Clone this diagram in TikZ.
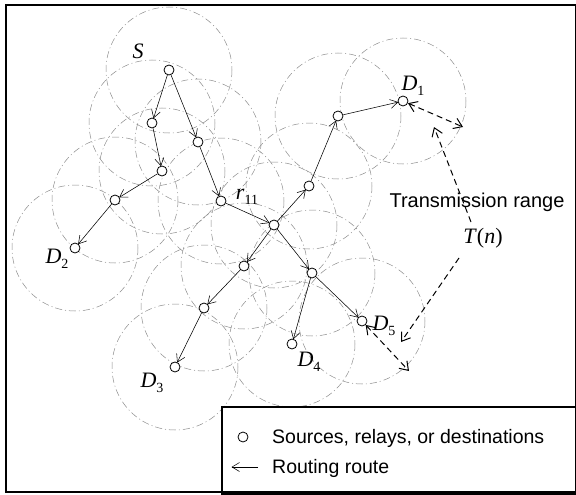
\documentclass[tikz,border=0pt]{standalone}
\usepackage{fontspec}
\setmainfont{Liberation Serif}
\setsansfont{Liberation Sans}
\usetikzlibrary{arrows.meta,backgrounds}
\newcommand{\lbl}[2]{\textit{#1}\raisebox{-0.45ex}{\fontsize{14}{14}\selectfont #2}}
\begin{document}
\begin{tikzpicture}[x=1pt,y=-1pt,
  nd/.style={circle,draw,line width=0.8pt,fill=white,inner sep=0pt,minimum size=10pt},
  route/.style={-{Straight Barb[length=7.5pt,width=9pt]},line width=0.55pt,shorten >=-0.5pt},
  rng/.style={draw=black!45,line width=0.5pt,dash pattern=on 7pt off 3pt on 1pt off 3pt},
  tarrow/.style={line width=1pt,dash pattern=on 6pt off 4pt},
  ttip/.tip={Straight Barb[length=8pt,width=11pt]},
  lab/.style={font=\fontsize{22}{22}\selectfont,inner sep=0pt},
  legtxt/.style={font=\sffamily\fontsize{19.5}{20}\selectfont,anchor=west,inner sep=0pt}]
\useasboundingbox (0,0) rectangle (576,495);
% nodes
\node[nd] (S) at (169,70) {};
\node[nd] (n1) at (152,123) {};
\node[nd] (n2) at (198,142) {};
\node[nd] (n3) at (162,171) {};
\node[nd] (n4) at (115,200) {};
\node[nd] (D2) at (75,248) {};
\node[nd] (r11) at (221,201) {};
\node[nd] (c) at (274,225) {};
\node[nd] (u1) at (309,186) {};
\node[nd] (u2) at (338,116) {};
\node[nd] (D1) at (403,101) {};
\node[nd] (l1) at (244,266) {};
\node[nd] (l2) at (204,308) {};
\node[nd] (D3) at (175,367) {};
\node[nd] (m) at (312,273) {};
\node[nd] (D4) at (292,344) {};
\node[nd] (D5) at (362,321) {};
% transmission ranges
\begin{scope}[on background layer]
\foreach \n in {S,n1,n2,n3,n4,D2,r11,c,u1,u2,D1,l1,l2,D3,m,D4,D5}
  \draw[rng] (\n.center) circle[radius=63];
\end{scope}
% routes
\draw[route] (S) -- (n1);
\draw[route] (S) -- (n2);
\draw[route] (n1) -- (n3);
\draw[route] (n3) -- (n4);
\draw[route] (n4) -- (D2);
\draw[route] (n2) -- (r11);
\draw[route] (r11) -- (c);
\draw[route] (c) -- (u1);
\draw[route] (u1) -- (u2);
\draw[route] (u2) -- (D1);
\draw[route] (c) -- (l1);
\draw[route] (l1) -- (l2);
\draw[route] (l2) -- (D3);
\draw[route] (c) -- (m);
\draw[route] (m) -- (D4);
\draw[route] (m) -- (D5);
% labels
\node[lab] (lS) at (138,51) {\textit{S}};
\node[lab] (lD1) at (413,86) {\lbl{D}{1}};
\node[lab] (lD2) at (57,259) {\lbl{D}{2}};
\node[lab] (lr) at (247,197) {\lbl{r}{11}};
\node[lab] (lD3) at (152,383) {\lbl{D}{3}};
\node[lab] (lD4) at (309,362) {\lbl{D}{4}};
\node[lab] (lD5) at (384,326) {\lbl{D}{5}};
% transmission range
\node[font=\sffamily\fontsize{20}{20}\selectfont,inner sep=0pt] (tr) at (477,202) {Transmission range};
\node[lab] (Tn) at (483,238) {\textit{T}(\textit{n})};
\coordinate (a1) at (463,127);
\coordinate (a2) at (434,127);
\coordinate (a3) at (471,222);
\coordinate (a4) at (459,258);
\coordinate (a5) at (401,342);
\coordinate (a6) at (409,371);
\draw[tarrow,ttip-ttip] (D1) -- (a1);
\draw[tarrow,-ttip] (a3) -- (a2);
\draw[tarrow,-ttip] (a4) -- (a5);
\draw[tarrow,ttip-ttip] (D5) -- (a6);
% legend
\draw[fill=white,line width=1.2pt] (222,407) rectangle (577,494);
\node[nd] (lc) at (243,437) {};
\node[legtxt] (lt1) at (272,438) {Sources, relays, or destinations};
\coordinate (la1) at (258,467);
\coordinate (la2) at (232,467);
\draw[route] (la1) -- (la2);
\node[legtxt] (lt2) at (272,468) {Routing route};
% frame
\draw[line width=1.6pt] (6,5) rectangle (576,492);
\end{tikzpicture}
\end{document}
